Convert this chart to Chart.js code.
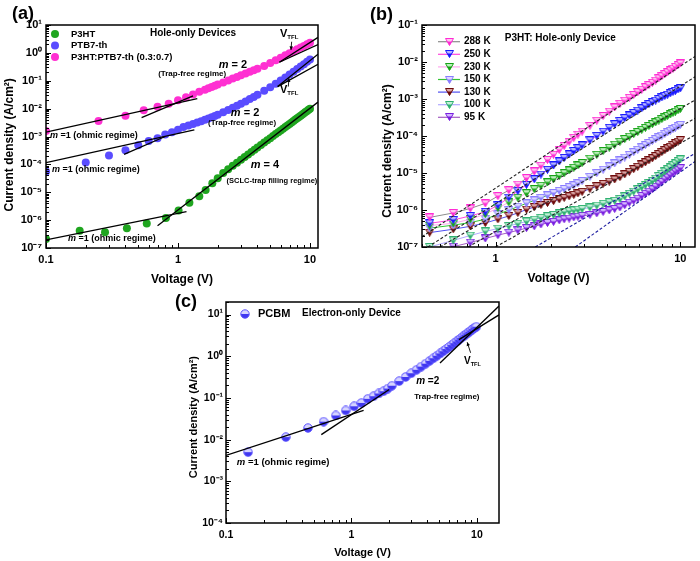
<!DOCTYPE html>
<html><head><meta charset="utf-8">
<script src="https://cdn.jsdelivr.net/npm/chart.js@4.4.1/dist/chart.umd.min.js"></script>
<style>
html,body{margin:0;padding:0;background:#fff;}
#wrap{position:relative;width:700px;height:561px;overflow:hidden;background:#fff;}
canvas{position:absolute;left:0;top:0;}
.pl{position:absolute;font:bold 18px 'Liberation Sans',Arial,sans-serif;color:#000;line-height:20px;}
</style></head><body>
<div id="wrap">
<canvas id="ca" width="700" height="561"></canvas>
<canvas id="cb" width="700" height="561"></canvas>
<canvas id="cc" width="700" height="561"></canvas>
<div class="pl" style="left:12px;top:3px">(a)</div>
<div class="pl" style="left:370px;top:4px">(b)</div>
<div class="pl" style="left:175px;top:291px">(c)</div>
</div>
<script>
const FONT = "'Liberation Sans', Arial, Helvetica, sans-serif";

// ---------------- Panel (a): hole-only devices ----------------
const vP3HT = [0.1, 0.18, 0.28, 0.41, 0.58, 0.81, 1.01, 1.22, 1.45, 1.62, 1.82, 2.0, 2.2, 2.4, 2.6, 2.8, 3.0, 3.2, 3.4, 3.6, 3.8, 4.0, 4.25, 4.5, 4.75, 5.0, 5.25, 5.5, 5.75, 6.0, 6.25, 6.5, 6.75, 7.0, 7.25, 7.5, 7.75, 8.0, 8.25, 8.5, 8.75, 9.0, 9.25, 9.5, 9.75, 10.0];
const jP3HT = [2.1e-7, 4.2e-7, 3.7e-7, 5.1e-7, 7.6e-7, 1.2e-6, 2.2e-6, 4.2e-6, 7.2e-6, 1.2e-5, 2.1e-5, 3.2e-5, 4.93e-5, 6.68e-5, 8.85e-5, 1.15e-4, 1.46e-4, 1.83e-4, 2.26e-4, 2.77e-4, 3.34e-4, 4.00e-4, 4.94e-4, 6.04e-4, 7.30e-4, 8.73e-4, 1.04e-3, 1.22e-3, 1.42e-3, 1.65e-3, 1.91e-3, 2.19e-3, 2.49e-3, 2.83e-3, 3.21e-3, 3.61e-3, 4.05e-3, 4.52e-3, 5.04e-3, 5.58e-3, 6.19e-3, 6.82e-3, 7.52e-3, 8.24e-3, 9.04e-3, 9.87e-3];
const vPTB7 = [0.1, 0.2, 0.3, 0.4, 0.5, 0.6, 0.7, 0.8, 0.9, 1.0, 1.1, 1.2, 1.3, 1.4, 1.5, 1.6, 1.7, 1.8, 1.9, 2.0, 2.2, 2.4, 2.6, 2.8, 3.0, 3.25, 3.5, 3.75, 4.0, 4.5, 5.0, 5.5, 6.0, 6.5, 7.0, 7.5, 8.0, 8.5, 9.0, 9.5, 10.0];
const jPTB7 = [5.5e-5, 1.16e-4, 2.1e-4, 3.2e-4, 4.9e-4, 6.9e-4, 8.7e-4, 1.17e-3, 1.41e-3, 1.76e-3, 2.17e-3, 2.47e-3, 2.79e-3, 3.15e-3, 3.53e-3, 3.96e-3, 4.42e-3, 4.93e-3, 5.47e-3, 6.05e-3, 7.38e-3, 8.91e-3, 1.07e-2, 1.27e-2, 1.49e-2, 1.82e-2, 2.20e-2, 2.63e-2, 3.13e-2, 4.34e-2, 5.88e-2, 7.82e-2, 0.102, 0.132, 0.167, 0.211, 0.262, 0.323, 0.394, 0.478, 0.575];
const vBlend = [0.1, 0.25, 0.4, 0.55, 0.7, 0.85, 1.0, 1.15, 1.3, 1.45, 1.6, 1.7, 1.8, 1.9, 2.0, 2.2, 2.4, 2.6, 2.8, 3.0, 3.25, 3.5, 3.75, 4.0, 4.5, 5.0, 5.5, 6.0, 6.5, 7.0, 7.5, 8.0, 8.5, 9.0, 9.5, 10.0];
const jBlend = [1.58e-3, 3.6e-3, 5.6e-3, 8.8e-3, 1.17e-2, 1.5e-2, 2.0e-2, 2.55e-2, 3.2e-2, 4.0e-2, 0.048, 0.0537, 0.0598, 0.0662, 0.0729, 0.0873, 0.103, 0.120, 0.137, 0.156, 0.182, 0.209, 0.238, 0.268, 0.336, 0.434, 0.546, 0.671, 0.814, 0.973, 1.15, 1.34, 1.55, 1.78, 2.02, 2.29];
const fitsA = [
  [[0.1, 1.43e-3], [1.4, 2.29e-2]],
  [[0.53, 4.79e-3], [1.3, 2.88e-2]],
  [[5.86, 0.46], [11.5, 3.59]],
  [[5.86, 0.46], [11.5, 2.0]],
  [[0.1, 1.16e-4], [1.33, 1.73e-3]],
  [[0.39, 2.3e-4], [0.8, 1.0e-3]],
  [[5.69, 6.16e-2], [11.5, 0.89]],
  [[5.69, 6.16e-2], [11.5, 0.39]],
  [[0.1, 1.97e-7], [1.16, 2.0e-6]],
  [[0.70, 6.25e-7], [11.5, 1.71e-2]]
];
const labelsA = ['P3HT', 'PTB7-th', 'P3HT:PTB7-th (0.3:0.7)'];
const xTicksA = [0.1, 1, 10];
const yTicksA = [1e-7, 1e-6, 1e-5, 1e-4, 1e-3, 1e-2, 1e-1, 1, 10];

// ---------------- Panel (b): P3HT temperature series ----------------
const vT = [0.44, 0.59, 0.73, 0.88, 1.03, 1.18, 1.32, 1.47, 1.62, 1.76, 1.91, 2.06, 2.21, 2.35, 2.50, 2.65, 2.79, 2.94, 3.24, 3.53, 3.82, 4.12, 4.41, 4.71, 5.00, 5.29, 5.59, 5.88, 6.18, 6.47, 6.76, 7.06, 7.35, 7.65, 7.94, 8.24, 8.53, 8.82, 9.12, 9.41, 9.71, 10.0];
const temps = ['288 K', '250 K', '230 K', '150 K', '130 K', '100 K', '95 K'];
const j288 = [6.31e-7, 8.32e-7, 1.10e-6, 1.51e-6, 2.37e-6, 3.41e-6, 4.88e-6, 7.26e-6, 1.10e-5, 1.58e-5, 2.25e-5, 3.12e-5, 4.19e-5, 5.41e-5, 7.01e-5, 8.95e-5, 1.09e-4, 1.32e-4, 1.89e-4, 2.60e-4, 3.48e-4, 4.59e-4, 5.90e-4, 7.45e-4, 9.04e-4, 1.08e-3, 1.29e-3, 1.52e-3, 1.79e-3, 2.07e-3, 2.38e-3, 2.75e-3, 3.16e-3, 3.63e-3, 4.12e-3, 4.69e-3, 5.27e-3, 5.93e-3, 6.64e-3, 7.40e-3, 8.24e-3, 9.12e-3];
const j250 = [4.37e-7, 5.37e-7, 6.92e-7, 8.91e-7, 1.34e-6, 2.17e-6, 3.25e-6, 4.78e-6, 6.76e-6, 9.10e-6, 1.22e-5, 1.60e-5, 2.06e-5, 2.56e-5, 3.19e-5, 3.94e-5, 4.69e-5, 5.56e-5, 7.62e-5, 1.01e-4, 1.31e-4, 1.67e-4, 2.08e-4, 2.56e-4, 3.05e-4, 3.59e-4, 4.21e-4, 4.86e-4, 5.62e-4, 6.41e-4, 7.28e-4, 8.20e-4, 9.08e-4, 1.00e-3, 1.10e-3, 1.21e-3, 1.31e-3, 1.43e-3, 1.55e-3, 1.67e-3, 1.81e-3, 1.95e-3];
const j230 = [3.80e-7, 4.37e-7, 5.62e-7, 7.76e-7, 1.13e-6, 1.61e-6, 2.15e-6, 2.84e-6, 3.66e-6, 4.53e-6, 5.60e-6, 6.81e-6, 8.30e-6, 9.86e-6, 1.17e-5, 1.39e-5, 1.60e-5, 1.86e-5, 2.45e-5, 3.12e-5, 3.91e-5, 4.83e-5, 5.86e-5, 7.03e-5, 8.26e-5, 9.62e-5, 1.12e-4, 1.28e-4, 1.47e-4, 1.66e-4, 1.87e-4, 2.10e-4, 2.34e-4, 2.61e-4, 2.88e-4, 3.18e-4, 3.49e-4, 3.83e-4, 4.19e-4, 4.56e-4, 4.95e-4, 5.37e-4];
const j150 = [3.24e-7, 3.89e-7, 4.57e-7, 5.62e-7, 7.66e-7, 9.93e-7, 1.23e-6, 1.51e-6, 1.82e-6, 2.13e-6, 2.49e-6, 2.88e-6, 3.29e-6, 3.70e-6, 4.16e-6, 4.66e-6, 5.27e-6, 6.07e-6, 7.89e-6, 9.95e-6, 1.23e-5, 1.51e-5, 1.82e-5, 2.19e-5, 2.62e-5, 3.10e-5, 3.66e-5, 4.26e-5, 4.94e-5, 5.68e-5, 6.47e-5, 7.36e-5, 8.26e-5, 9.27e-5, 1.03e-4, 1.15e-4, 1.26e-4, 1.39e-4, 1.53e-4, 1.68e-4, 1.84e-4, 2.00e-4];
const j130 = [2.45e-7, 3.02e-7, 3.63e-7, 4.47e-7, 5.60e-7, 6.89e-7, 8.34e-7, 1.03e-6, 1.20e-6, 1.36e-6, 1.55e-6, 1.74e-6, 1.94e-6, 2.13e-6, 2.35e-6, 2.57e-6, 2.81e-6, 3.10e-6, 3.73e-6, 4.40e-6, 5.09e-6, 5.87e-6, 6.68e-6, 7.74e-6, 9.20e-6, 1.08e-5, 1.27e-5, 1.47e-5, 1.70e-5, 1.94e-5, 2.20e-5, 2.51e-5, 2.86e-5, 3.25e-5, 3.67e-5, 4.14e-5, 4.63e-5, 5.16e-5, 5.75e-5, 6.37e-5, 7.06e-5, 7.76e-5];
const j100 = [1.00e-7, 1.51e-7, 2.04e-7, 2.63e-7, 3.16e-7, 3.72e-7, 4.27e-7, 4.90e-7, 5.50e-7, 6.17e-7, 6.76e-7, 7.41e-7, 8.13e-7, 8.81e-7, 9.33e-7, 9.77e-7, 1.02e-6, 1.07e-6, 1.17e-6, 1.32e-6, 1.48e-6, 1.62e-6, 1.78e-6, 2.00e-6, 2.34e-6, 2.75e-6, 3.16e-6, 3.63e-6, 4.17e-6, 4.79e-6, 5.37e-6, 6.17e-6, 7.08e-6, 8.32e-6, 9.55e-6, 1.10e-5, 1.26e-5, 1.41e-5, 1.62e-5, 1.82e-5, 2.09e-5, 2.34e-5];
const j95 = [6.76e-8, 1.02e-7, 1.32e-7, 1.70e-7, 2.09e-7, 2.45e-7, 2.82e-7, 3.24e-7, 3.63e-7, 4.07e-7, 4.47e-7, 4.79e-7, 5.25e-7, 5.62e-7, 5.89e-7, 6.31e-7, 6.61e-7, 6.92e-7, 7.41e-7, 8.13e-7, 8.91e-7, 9.77e-7, 1.07e-6, 1.17e-6, 1.35e-6, 1.58e-6, 1.78e-6, 2.04e-6, 2.40e-6, 2.75e-6, 3.16e-6, 3.63e-6, 4.27e-6, 5.01e-6, 5.75e-6, 6.76e-6, 7.59e-6, 8.71e-6, 9.77e-6, 1.10e-5, 1.20e-5, 1.35e-5];
const fitsB = [
  [[0.4, 1.9e-7], [12, 1.41e-2]],
  [[0.43, 1e-7], [12, 3.98e-3]],
  [[0.5, 1e-7], [12, 9.33e-4]],
  [[0.71, 1e-7], [12, 3.02e-4]],
  [[1.0, 1e-7], [12, 1.07e-4]],
  [[1.64, 1e-7], [12, 3.39e-5]],
  [[2.7, 1e-7], [12, 2.04e-5]]
];
const xTicksB = [1, 10];
const yTicksB = [1e-7, 1e-6, 1e-5, 1e-4, 1e-3, 1e-2, 1e-1];

// ---------------- Panel (c): PCBM electron-only ----------------
const vPCBM = [0.15, 0.3, 0.45, 0.6, 0.75, 0.9, 1.05, 1.2, 1.35, 1.5, 1.65, 1.8, 1.95, 2.1, 2.4, 2.7, 3.0, 3.3, 3.6, 3.9, 4.2, 4.5, 4.8, 5.1, 5.4, 5.7, 6.0, 6.3, 6.6, 6.9, 7.2, 7.5, 7.8, 8.1, 8.4, 8.7, 9.0, 9.3, 9.6, 9.9];
const jPCBM = [5.0e-3, 1.15e-2, 1.9e-2, 2.7e-2, 3.8e-2, 5.0e-2, 6.3e-2, 7.6e-2, 9.5e-2, 0.110, 0.128, 0.145, 0.168, 0.196, 0.253, 0.318, 0.391, 0.473, 0.565, 0.665, 0.776, 0.898, 1.03, 1.17, 1.32, 1.49, 1.67, 1.86, 2.06, 2.27, 2.50, 2.74, 3.00, 3.27, 3.55, 3.85, 4.16, 4.50, 4.84, 5.10];
const fitsC = [
  [[0.1, 4.2e-3], [1.25, 0.05]],
  [[0.575, 1.32e-2], [2.0, 0.16]],
  [[5.08, 0.69], [15, 16.0]],
  [[7.2, 2.51], [15, 9.8]]
];
const xTicksC = [0.1, 1, 10];
const yTicksC = [1e-4, 1e-3, 1e-2, 1e-1, 1, 10];

// ---------------- helpers ----------------
const SUP = {'-':'\u207B','0':'\u2070','1':'\u00B9','2':'\u00B2','3':'\u00B3','4':'\u2074','5':'\u2075','6':'\u2076','7':'\u2077','8':'\u2078','9':'\u2079'};
function powLabel(v){ const e = Math.round(Math.log10(v)); return '10' + String(e).split('').map(c => SUP[c]).join(''); }
function pts(xs, ys){ return xs.map((v, i) => ({x: v, y: ys[i]})); }
function seg(p){ return p.map(q => ({x: q[0], y: q[1]})); }
function logMarks(min, max){
  const out = [];
  for (let e = Math.floor(Math.log10(min)) - 1; e <= Math.ceil(Math.log10(max)); e++){
    for (let k = 1; k <= 9; k++){
      const v = k * Math.pow(10, e);
      if (v >= min * 0.9999 && v <= max * 1.0001) out.push({v, major: k === 1});
    }
  }
  return out;
}
function drawRich(ctx, px, py, segs, align){
  const fonts = segs.map(s => (s.italic ? 'italic ' : '') + 'bold ' + s.size + 'px ' + FONT);
  let w = 0;
  segs.forEach((s, i) => { ctx.font = fonts[i]; w += ctx.measureText(s.t).width; });
  let cx = align === 'center' ? px - w / 2 : (align === 'right' ? px - w : px);
  ctx.textBaseline = 'middle'; ctx.textAlign = 'left'; ctx.fillStyle = '#000';
  segs.forEach((s, i) => { ctx.font = fonts[i]; ctx.fillText(s.t, cx, py + (s.dy || 0)); cx += ctx.measureText(s.t).width; });
}
function makeTri(fill, light){
  const c = document.createElement('canvas'); c.width = 9; c.height = 8;
  const g = c.getContext('2d');
  g.beginPath(); g.moveTo(0.5, 0.5); g.lineTo(8.5, 0.5); g.lineTo(4.5, 7.5); g.closePath();
  g.fillStyle = light; g.fill();
  g.save(); g.clip(); g.fillStyle = fill; g.fillRect(0, 3.5, 9, 5); g.restore();
  g.strokeStyle = fill; g.lineWidth = 1; g.stroke();
  return c;
}
function makeHalf(){
  const c = document.createElement('canvas'); c.width = 10; c.height = 10;
  const g = c.getContext('2d');
  g.beginPath(); g.arc(5, 5, 4.2, 0, Math.PI * 2);
  g.fillStyle = '#d6d4ff'; g.fill();
  g.save(); g.clip(); g.fillStyle = '#4038f0'; g.fillRect(0, 5, 10, 5); g.restore();
  g.strokeStyle = '#5a50ff'; g.lineWidth = 1; g.stroke();
  return c;
}

const deco = {
  id: 'deco',
  afterDatasetsDraw(chart, args, o){
    const {ctx, chartArea: a, scales: {x, y}} = chart;
    ctx.save();
    ctx.strokeStyle = '#000'; ctx.lineWidth = 1;
    ctx.beginPath();
    for (const t of logMarks(x.min, x.max)){
      const p = Math.round(x.getPixelForValue(t.v)) + 0.5, L = t.major ? 5 : 3;
      ctx.moveTo(p, a.bottom); ctx.lineTo(p, a.bottom - L);
    }
    for (const t of logMarks(y.min, y.max)){
      const p = Math.round(y.getPixelForValue(t.v)) + 0.5, L = t.major ? 5 : 3;
      ctx.moveTo(a.left, p); ctx.lineTo(a.left + L, p);
    }
    ctx.stroke();
    ctx.lineWidth = 1.5;
    ctx.strokeRect(a.left, a.top, a.right - a.left, a.bottom - a.top);
    (o.arrows || []).forEach(ar => {
      const x0 = x.getPixelForValue(ar[0][0]), y0 = y.getPixelForValue(ar[0][1]);
      const x1 = x.getPixelForValue(ar[1][0]), y1 = y.getPixelForValue(ar[1][1]);
      ctx.lineWidth = 0.9; ctx.strokeStyle = '#000'; ctx.fillStyle = '#000';
      ctx.beginPath(); ctx.moveTo(x0, y0); ctx.lineTo(x1, y1); ctx.stroke();
      const ang = Math.atan2(y1 - y0, x1 - x0), h = 4;
      ctx.beginPath(); ctx.moveTo(x1, y1);
      ctx.lineTo(x1 - h * Math.cos(ang - 0.45), y1 - h * Math.sin(ang - 0.45));
      ctx.lineTo(x1 - h * Math.cos(ang + 0.45), y1 - h * Math.sin(ang + 0.45));
      ctx.closePath(); ctx.fill();
    });
    (o.texts || []).forEach(t => drawRich(ctx, x.getPixelForValue(t.at[0]), y.getPixelForValue(t.at[1]), t.segs, t.align));
    if (o.legend){
      const L = o.legend;
      L.items.forEach((idx, i) => {
        const ds = chart.data.datasets[idx];
        const cy = a.top + L.y0 + i * L.dy;
        if (L.line){
          ctx.strokeStyle = ds.borderColor; ctx.lineWidth = 1.2;
          ctx.beginPath(); ctx.moveTo(a.left + L.l0, cy); ctx.lineTo(a.left + L.l1, cy); ctx.stroke();
        }
        const mx = a.left + L.mx;
        if (ds.pointStyle && typeof ds.pointStyle === 'object'){
          ctx.drawImage(ds.pointStyle, Math.round(mx - ds.pointStyle.width / 2), Math.round(cy - ds.pointStyle.height / 2));
        } else {
          ctx.fillStyle = ds.pointBackgroundColor; ctx.beginPath(); ctx.arc(mx, cy, ds.pointRadius, 0, Math.PI * 2); ctx.fill();
        }
        drawRich(ctx, a.left + L.tx, cy, [{t: ds.label, size: L.size}], 'left');
      });
    }
    ctx.restore();
  }
};

function fitSets(list, color, dash){
  return list.map(p => ({type: 'scatter', label: '', data: seg(p), showLine: true, pointRadius: 0, borderColor: color, borderWidth: dash ? 1.1 : 1.3, borderDash: dash || [], fill: false}));
}

function makeChart(id, datasets, c){
  return new Chart(document.getElementById(id), {
    type: 'scatter',
    data: {datasets},
    options: {
      responsive: false, animation: false, devicePixelRatio: 1,
      layout: {padding: c.pad},
      plugins: {legend: {display: false}, tooltip: {enabled: false}, deco: c.deco},
      scales: {
        x: {type: 'logarithmic', min: c.xmin, max: c.xmax,
            grid: {display: false, drawTicks: false}, border: {display: false},
            afterBuildTicks: s => { s.ticks = c.xticks.map(v => ({value: v})); },
            afterFit: s => { s.height = c.xh; },
            ticks: {callback: v => String(v), font: {family: FONT, size: c.tick, weight: 'bold'}, color: '#000', padding: c.xpad, maxRotation: 0, autoSkip: false},
            title: {display: true, text: 'Voltage (V)', font: {family: FONT, size: c.xt, weight: 'bold'}, color: '#000', padding: {top: 0, bottom: c.xtb}}},
        y: {type: 'logarithmic', min: c.ymin, max: c.ymax,
            grid: {display: false, drawTicks: false}, border: {display: false},
            afterBuildTicks: s => { s.ticks = c.yticks.map(v => ({value: v})); },
            afterFit: s => { s.width = c.yw; },
            ticks: {callback: v => powLabel(v), font: {family: FONT, size: c.tick, weight: 'bold'}, color: '#000', padding: c.ypad, autoSkip: false},
            title: {display: true, text: c.ytitle, font: {family: FONT, size: c.yt, weight: 'bold'}, color: '#000', padding: {top: 2, bottom: 0}}}
      }
    },
    plugins: [deco]
  });
}

// ---- build (a)
const mSeg = (rest, size) => [{t: 'm', size, italic: true}, {t: rest, size}];
const vtfl = [{t: 'V', size: 11}, {t: 'TFL', size: 6, dy: 3}];
const dsA = fitSets(fitsA, '#000').concat([
  {label: labelsA[2], data: pts(vBlend, jBlend), pointRadius: 4, pointBackgroundColor: '#ff30d2', pointBorderColor: '#ff30d2', pointBorderWidth: 0, showLine: false},
  {label: labelsA[1], data: pts(vPTB7, jPTB7), pointRadius: 4, pointBackgroundColor: '#5a4cff', pointBorderColor: '#5a4cff', pointBorderWidth: 0, showLine: false},
  {label: labelsA[0], data: pts(vP3HT, jP3HT), pointRadius: 4, pointBackgroundColor: '#1fa51f', pointBorderColor: '#1fa51f', pointBorderWidth: 0, showLine: false}
]);
const nA = fitsA.length;
makeChart('ca', dsA, {
  pad: {left: 0, top: 25, right: 382, bottom: 273},
  xmin: 0.1, xmax: 11.5, ymin: 1e-7, ymax: 10, xticks: xTicksA, yticks: yTicksA,
  xh: 40, yw: 46, tick: 11, xpad: 5, ypad: 4, xt: 12, xtb: 1, yt: 12,
  ytitle: 'Current density (A/cm\u00B2)     ',
  deco: {
    texts: [
      {at: [1.30, 5.2], segs: [{t: 'Hole-only Devices', size: 10}], align: 'center'},
      {at: [2.61, 0.37], segs: mSeg(' = 2', 11), align: 'center'},
      {at: [1.28, 0.175], segs: [{t: '(Trap-free regime)', size: 8}], align: 'center'},
      {at: [5.93, 4.75], segs: vtfl, align: 'left'},
      {at: [3.22, 7.0e-3], segs: mSeg(' = 2', 11), align: 'center'},
      {at: [3.06, 3.1e-3], segs: [{t: '(Trap-free regime)', size: 8}], align: 'center'},
      {at: [5.93, 0.0468], segs: vtfl, align: 'left'},
      {at: [0.107, 1.05e-3], segs: mSeg(' =1 (ohmic regime)', 9), align: 'left'},
      {at: [0.111, 6.35e-5], segs: mSeg(' =1 (ohmic regime)', 9), align: 'left'},
      {at: [4.56, 9.6e-5], segs: mSeg(' = 4', 11), align: 'center'},
      {at: [5.15, 2.6e-5], segs: [{t: '(SCLC-trap filling regime)', size: 7.5}], align: 'center'},
      {at: [0.147, 2.14e-7], segs: mSeg(' =1 (ohmic regime)', 9), align: 'left'}
    ],
    arrows: [[[7.26, 2.51], [7.18, 1.27]], [[6.85, 0.0617], [6.93, 0.123]]],
    legend: {items: [nA + 2, nA + 1, nA], y0: 9, dy: 11.5, mx: 9, tx: 25, size: 9.5}
  }
});

// ---- build (b)
const styleB = [
  {m: '#ff2ad4', l: '#ffc4f0', line: '#8c8c8c'},
  {m: '#1a1aff', l: '#b4b4ff', line: '#ff44de'},
  {m: '#17a317', l: '#bdf0bd', line: '#ffa6ee'},
  {m: '#8a7dff', l: '#dcd8ff', line: '#33c433'},
  {m: '#6e0a0a', l: '#d9a4a4', line: '#5050f0'},
  {m: '#2fb070', l: '#c2f0d8', line: '#b0a8ff'},
  {m: '#7a20e0', l: '#d2b4ff', line: '#a35cc2'}
];
const seriesB = [j288, j250, j230, j150, j130, j100, j95];
const dashB = fitSets(fitsB.slice(0, 5), '#222', [3, 2]).concat(fitSets(fitsB.slice(5), '#1c1ca0', [3, 2]));
const nB = dashB.length;
const dsB = dashB.concat(seriesB.map((ys, i) => ({
  label: temps[i], data: pts(vT, ys), showLine: true, borderColor: styleB[i].line, borderWidth: 1,
  pointStyle: makeTri(styleB[i].m, styleB[i].l), pointRadius: 4
})));
makeChart('cb', dsB, {
  pad: {left: 378, top: 25, right: 3, bottom: 274},
  xmin: 0.4, xmax: 12, ymin: 1e-7, ymax: 1e-1, xticks: xTicksB, yticks: yTicksB,
  xh: 40, yw: 44, tick: 11, xpad: 5, ypad: 4, xt: 12, xtb: 1, yt: 12,
  ytitle: 'Current density (A/cm\u00B2)         ',
  deco: {
    texts: [{at: [2.24, 0.0447], segs: [{t: 'P3HT: Hole-only Device', size: 10}], align: 'center'}],
    legend: {items: temps.map((t, i) => nB + i), y0: 16.7, dy: 12.6, line: true, l0: 16, l1: 38, mx: 27, tx: 42, size: 10}
  }
});

// ---- build (c)
const dsC = fitSets(fitsC, '#000').concat([
  {label: 'PCBM', data: pts(vPCBM, jPCBM), pointStyle: makeHalf(), pointRadius: 4.5, showLine: false}
]);
makeChart('cc', dsC, {
  pad: {left: 185, top: 302, right: 201, bottom: 0},
  xmin: 0.1, xmax: 15, ymin: 1e-4, ymax: 20, xticks: xTicksC, yticks: yTicksC,
  xh: 38, yw: 41, tick: 10.5, xpad: 6, ypad: 3, xt: 11, xtb: 1.5, yt: 11,
  ytitle: 'Current density (A/cm\u00B2)   ',
  deco: {
    texts: [
      {at: [1.0, 10.6], segs: [{t: 'Electron-only Device', size: 10}], align: 'center'},
      {at: [3.28, 0.247], segs: mSeg(' =2', 10), align: 'left'},
      {at: [3.16, 0.108], segs: [{t: 'Trap-free regime)', size: 8}], align: 'left'},
      {at: [7.89, 0.746], segs: [{t: 'V', size: 10}, {t: 'TFL', size: 5.5, dy: 3}], align: 'left'},
      {at: [0.122, 2.8e-3], segs: mSeg(' =1 (ohmic regime)', 9.5), align: 'left'}
    ],
    arrows: [[[8.91, 1.21], [8.37, 2.17]]],
    legend: {items: [fitsC.length], y0: 12, dy: 0, mx: 19, tx: 32, size: 11}
  }
});
</script>
</body></html>
